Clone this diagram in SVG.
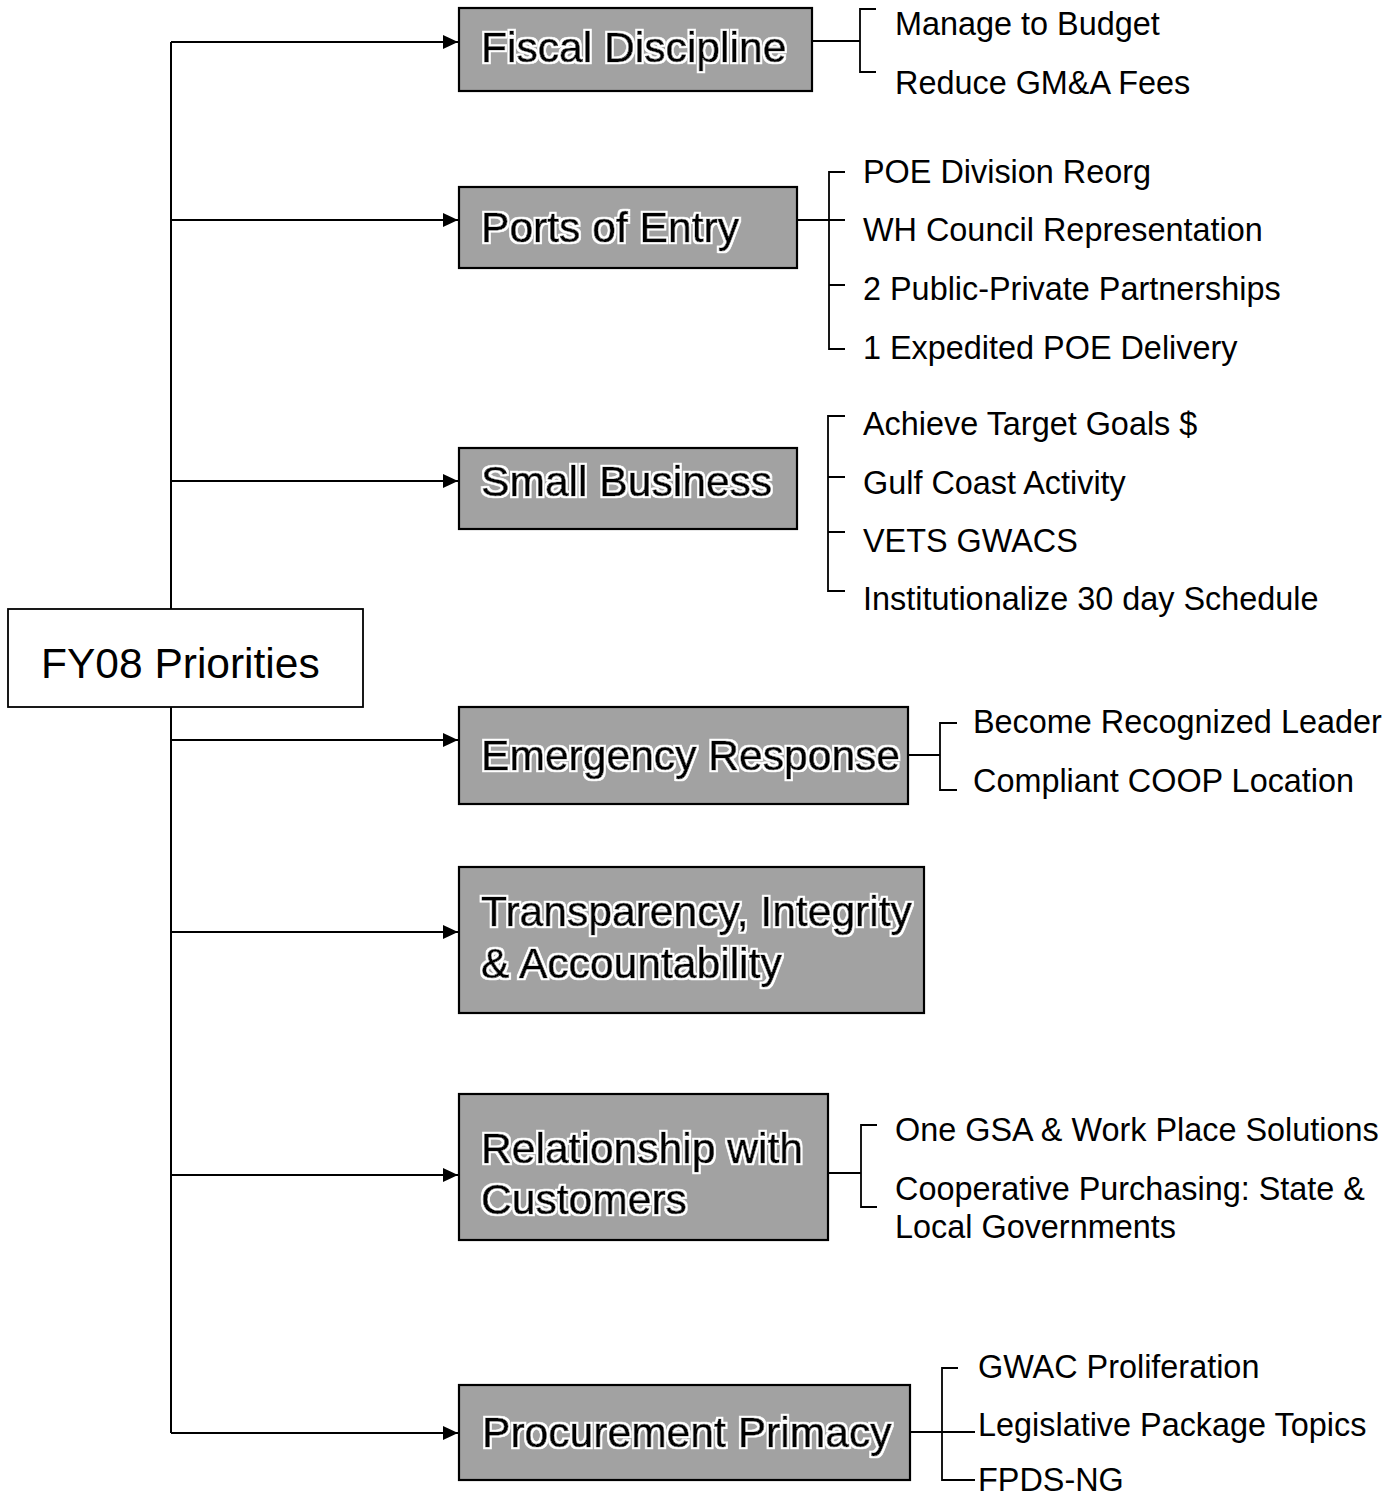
<svg xmlns="http://www.w3.org/2000/svg" width="1400" height="1497" viewBox="0 0 1400 1497">
<defs>
<marker id="ah" markerWidth="16" markerHeight="14" refX="15" refY="7" orient="auto" markerUnits="userSpaceOnUse">
<path d="M0,0 L15,7 L0,14 Z" fill="#000"/>
</marker>
<filter id="halo" x="-5%" y="-20%" width="110%" height="140%">
<feMorphology in="SourceAlpha" operator="dilate" radius="1.6" result="d"/>
<feFlood flood-color="#fff" result="w"/>
<feComposite in="w" in2="d" operator="in" result="h"/>
<feMerge><feMergeNode in="h"/><feMergeNode in="SourceGraphic"/></feMerge>
</filter>
<style>
.root{fill:#fff;stroke:#000;stroke-width:1.8}
.box{fill:#a2a2a2;stroke:#000;stroke-width:2.2}
.bt{font-family:"Liberation Sans",Arial,sans-serif;font-size:42.6px;fill:#000;stroke:#000;stroke-width:0.7;filter:url(#halo)}
.rt{font-family:"Liberation Sans",Arial,sans-serif;font-size:42.5px;fill:#000}
.st{font-family:"Liberation Sans",Arial,sans-serif;font-size:32.4px;fill:#000}
.ln{fill:none;stroke:#000;stroke-width:2}
.br{fill:none;stroke:#000;stroke-width:1.8}
</style>
</defs>
<rect width="1400" height="1497" fill="#fff"/>
<g id="connectors">
<path class="ln" d="M171,42 V1433"/>
<path class="ln" d="M171,42 H458" marker-end="url(#ah)"/>
<path class="ln" d="M171,220 H458" marker-end="url(#ah)"/>
<path class="ln" d="M171,481 H458" marker-end="url(#ah)"/>
<path class="ln" d="M171,740 H458" marker-end="url(#ah)"/>
<path class="ln" d="M171,932 H458" marker-end="url(#ah)"/>
<path class="ln" d="M171,1175 H458" marker-end="url(#ah)"/>
<path class="ln" d="M171,1433 H458" marker-end="url(#ah)"/>
<path class="br" d="M812,41 H860 M876,9 H860 V72 H876"/>
<path class="br" d="M797,220 H845 M845,172 H829 V349 H845 M829,285 H845"/>
<path class="br" d="M845,416 H828 V591 H845 M828,477 H845 M828,532 H845"/>
<path class="br" d="M908,755 H940 M957,723 H940 V790 H957"/>
<path class="br" d="M828,1173 H861 M877,1125 H861 V1207 H877"/>
<path class="br" d="M910,1432 H975 M958,1368 H942 V1480 H975"/>
</g>
<g id="root">
<rect class="root" x="8" y="609" width="355" height="98"/>
<text class="rt" x="41" y="678">FY08 Priorities</text>
</g>
<g id="fiscal">
<rect class="box" x="459" y="8" width="353" height="83"/>
<text class="bt" x="481" y="62">Fiscal Discipline</text>
<text class="st" x="895" y="35">Manage to Budget</text>
<text class="st" x="895" y="94">Reduce GM&amp;A Fees</text>
</g>
<g id="ports">
<rect class="box" x="459" y="187" width="338" height="81"/>
<text class="bt" x="481" y="242">Ports of Entry</text>
<text class="st" x="863" y="183">POE Division Reorg</text>
<text class="st" x="863" y="241">WH Council Representation</text>
<text class="st" x="863" y="300">2 Public-Private Partnerships</text>
<text class="st" x="863" y="359">1 Expedited POE Delivery</text>
</g>
<g id="small">
<rect class="box" x="459" y="448" width="338" height="81"/>
<text class="bt" x="481" y="496">Small Business</text>
<text class="st" x="863" y="435">Achieve Target Goals $</text>
<text class="st" x="863" y="494">Gulf Coast Activity</text>
<text class="st" x="863" y="552">VETS GWACS</text>
<text class="st" x="863" y="610">Institutionalize 30 day Schedule</text>
</g>
<g id="emergency">
<rect class="box" x="459" y="707" width="449" height="97"/>
<text class="bt" x="481" y="770">Emergency Response</text>
<text class="st" x="973" y="733">Become Recognized Leader</text>
<text class="st" x="973" y="792">Compliant COOP Location</text>
</g>
<g id="transparency">
<rect class="box" x="459" y="867" width="465" height="146"/>
<text class="bt" x="481" y="926">Transparency, Integrity</text>
<text class="bt" x="481" y="978">&amp; Accountability</text>
</g>
<g id="relationship">
<rect class="box" x="459" y="1094" width="369" height="146"/>
<text class="bt" x="481" y="1163">Relationship with</text>
<text class="bt" x="481" y="1214">Customers</text>
<text class="st" x="895" y="1141">One GSA &amp; Work Place Solutions</text>
<text class="st" x="895" y="1200">Cooperative Purchasing: State &amp;</text>
<text class="st" x="895" y="1238">Local Governments</text>
</g>
<g id="procurement">
<rect class="box" x="459" y="1385" width="451" height="95"/>
<text class="bt" x="482" y="1447">Procurement Primacy</text>
<text class="st" x="978" y="1378">GWAC Proliferation</text>
<text class="st" x="978" y="1436">Legislative Package Topics</text>
<text class="st" x="978" y="1491">FPDS-NG</text>
</g>
</svg>
